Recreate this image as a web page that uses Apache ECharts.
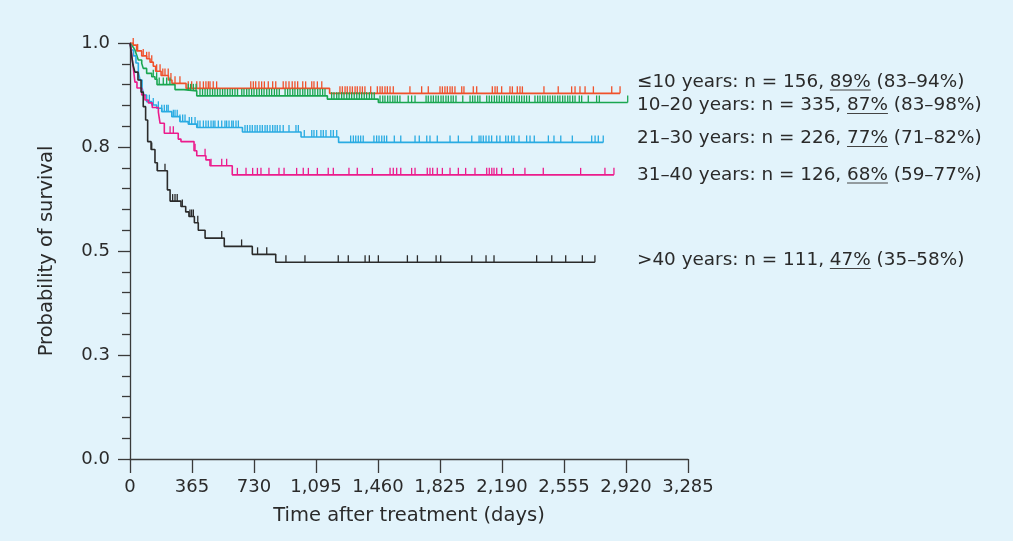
<!DOCTYPE html>
<html><head><meta charset="utf-8">
<script src="https://cdn.jsdelivr.net/npm/echarts@6/dist/echarts.min.js"></script>
<style>html,body{margin:0;padding:0;background:#e2f3fb;}#c{width:1013px;height:541px;}</style>
</head><body><div id="c"></div>
<script>
// ---------- data ----------
const xTicks = [0, 365, 730, 1095, 1460, 1825, 2190, 2555, 2920, 3285];
const xTickLabels = ['0', '365', '730', '1,095', '1,460', '1,825', '2,190', '2,555', '2,920', '3,285'];
const yTicks = [0, 0.25, 0.5, 0.75, 1];
const yTickLabels = ['0.0', '0.3', '0.5', '0.8', '1.0'];

const groupLabels = ['≤10 years', '10–20 years', '21–30 years', '31–40 years', '>40 years'];
const groupN = [156, 335, 226, 126, 111];
const groupPct = [89, 87, 77, 68, 47];
const groupCI = [[83, 94], [83, 98], [71, 82], [59, 77], [35, 58]];

// Kaplan–Meier steps: [day, survival after this day]
const stepsLe10 = [[0,1],[18,0.995],[39,0.981],[69,0.969],[98,0.962],[118,0.954],[137,0.944],[151,0.932],[183,0.922],[226,0.911],[247,0.903],[330,0.891],[1175,0.879],[2885,0.879]];
const steps10to20 = [[0,1],[9,0.995],[19,0.990],[29,0.983],[39,0.971],[49,0.959],[69,0.951],[78,0.939],[98,0.927],[128,0.919],[147,0.913],[159,0.900],[265,0.888],[318,0.885],[393,0.873],[1162,0.865],[1462,0.857],[2930,0.857]];
const steps21to30 = [[0,1],[9,0.983],[21,0.969],[35,0.952],[49,0.930],[59,0.911],[71,0.892],[82,0.875],[98,0.859],[128,0.851],[157,0.843],[187,0.835],[246,0.823],[294,0.811],[343,0.805],[393,0.797],[662,0.786],[1007,0.774],[1228,0.761],[2786,0.761]];
const steps31to40 = [[0,1],[6,0.988],[12,0.964],[21,0.935],[29,0.906],[41,0.892],[69,0.875],[88,0.863],[108,0.856],[131,0.845],[167,0.834],[177,0.807],[202,0.783],[284,0.769],[300,0.763],[377,0.741],[393,0.729],[447,0.719],[471,0.705],[602,0.683],[2849,0.683]];
const stepsOver40 = [[0,1],[9,0.971],[18,0.947],[29,0.930],[47,0.911],[65,0.882],[78,0.847],[92,0.815],[104,0.763],[124,0.744],[147,0.712],[161,0.693],[220,0.647],[236,0.620],[300,0.607],[328,0.594],[347,0.583],[379,0.568],[402,0.550],[442,0.531],[555,0.511],[720,0.492],[858,0.473],[2737,0.473]];

// censoring times (days)
const censLe10 = [19,45,78,98,112,128,157,177,193,206,225,241,265,294,343,363,393,412,432,447,461,471,490,510,711,726,740,759,775,791,814,840,858,902,918,936,955,971,987,1017,1034,1070,1083,1103,1129,1236,1250,1266,1279,1295,1309,1325,1338,1354,1368,1383,1417,1456,1472,1485,1501,1515,1531,1550,1648,1717,1756,1825,1839,1854,1868,1884,1897,1913,1953,1966,2021,2041,2133,2149,2162,2188,2237,2251,2280,2296,2310,2437,2521,2600,2620,2649,2679,2728,2836,2885];
const cens10to20 = [137,157,172,196,216,235,343,357,373,389,412,427,442,456,471,486,500,515,530,545,559,574,589,603,618,633,658,671,687,701,716,730,746,761,775,789,805,820,834,850,864,879,913,928,942,958,971,987,1001,1017,1030,1046,1060,1076,1089,1105,1119,1134,1148,1187,1201,1217,1230,1246,1260,1276,1291,1305,1320,1335,1350,1364,1379,1393,1409,1423,1438,1472,1488,1501,1517,1531,1547,1560,1574,1589,1638,1658,1678,1743,1756,1772,1786,1801,1815,1831,1844,1860,1874,1890,1903,1919,1959,2002,2017,2031,2047,2060,2100,2115,2129,2145,2159,2174,2188,2204,2218,2233,2247,2262,2277,2292,2306,2321,2335,2351,2384,2400,2414,2430,2443,2459,2473,2488,2502,2518,2531,2547,2561,2577,2590,2606,2620,2645,2659,2698,2747,2763,2930];
const cens21to30 = [114,137,167,187,202,216,225,255,265,278,294,310,324,349,363,383,399,412,432,447,461,477,490,500,520,540,559,569,583,599,608,624,638,677,691,706,720,736,749,765,779,795,808,824,840,854,867,883,902,936,977,991,1026,1070,1083,1099,1124,1138,1154,1182,1197,1217,1299,1315,1329,1344,1358,1373,1436,1452,1466,1482,1497,1511,1556,1594,1678,1703,1747,1766,1809,1884,1933,2012,2055,2066,2080,2096,2113,2129,2159,2178,2212,2227,2247,2261,2290,2335,2355,2380,2463,2496,2536,2604,2718,2738,2757,2786];
const cens31to40 = [236,255,383,442,477,540,569,632,683,722,750,771,818,877,907,981,1020,1050,1103,1167,1197,1289,1338,1427,1531,1550,1570,1594,1658,1678,1750,1766,1782,1809,1839,1884,1933,1976,2031,2100,2115,2130,2143,2159,2188,2257,2325,2433,2653,2796,2849];
const censOver40 = [128,161,206,251,265,278,308,353,363,373,399,540,657,751,805,918,1030,1226,1285,1384,1409,1462,1633,1692,1802,1829,2012,2096,2143,2394,2483,2565,2663,2737];

const groupColors = ['#f0512b', '#1aa650', '#29abe2', '#ec1b8c', '#2b2b2b'];
const allSteps = [stepsLe10, steps10to20, steps21to30, steps31to40, stepsOver40];
const allCens = [censLe10, cens10to20, cens21to30, cens31to40, censOver40];

// ---------- build ----------
function survAt(steps, t) {
  let s = steps[0][1];
  for (const p of steps) { if (p[0] <= t) s = p[1]; else break; }
  return s;
}
const FONT = '"DejaVu Sans", sans-serif';
const txtColor = '#2a2a2a';
const series = [];
allSteps.forEach((st, i) => {
  series.push({
    type: 'line', step: 'end', data: st, symbol: 'none', silent: true,
    lineStyle: { color: groupColors[i], width: 1.6 }, z: 2 + i
  });
  series.push({
    type: 'custom', silent: true, z: 2 + i,
    data: allCens[i].map(t => [t, survAt(st, t)]),
    encode: { x: 0, y: 1 },
    renderItem: (params, api) => {
      const p = api.coord([api.value(0), api.value(1)]);
      return { type: 'line', shape: { x1: p[0], y1: p[1], x2: p[0], y2: p[1] - 7 },
        style: { stroke: groupColors[i], lineWidth: 1.3 } };
    }
  });
});

// right-hand labels with underlined percentages
const ctx = document.createElement('canvas').getContext('2d');
const LFS = 18.4;
ctx.font = LFS + 'px ' + FONT;
const labelY = [82, 105.5, 138.5, 175, 260.5];
const labelX = 637;
const graphics = [];
groupLabels.forEach((g, i) => {
  const pre = g + ': n = ' + groupN[i] + ', ';
  const pct = groupPct[i] + '%';
  const post = ' (' + groupCI[i][0] + '–' + groupCI[i][1] + '%)';
  const w1 = ctx.measureText(pre).width;
  const w2 = ctx.measureText(pct).width;
  const y = labelY[i];
  [[pre, labelX], [pct, labelX + w1], [post, labelX + w1 + w2]].forEach(([s, x]) => {
    graphics.push({ type: 'text', x: x, y: y, silent: true,
      style: { text: s, fill: txtColor, font: LFS + 'px ' + FONT,
        align: 'left', verticalAlign: 'middle', textAlign: 'left', textVerticalAlign: 'middle' } });
  });
  graphics.push({ type: 'line', silent: true,
    shape: { x1: labelX + w1, y1: y + 8, x2: labelX + w1 + w2, y2: y + 8 },
    style: { stroke: '#444', lineWidth: 1 } });
});

const chart = echarts.init(document.getElementById('c'), null, { renderer: 'canvas' });
chart.setOption({
  animation: false,
  backgroundColor: '#e2f3fb',
  grid: { left: 130, right: 325, top: 43, bottom: 82, containLabel: false, outerBoundsMode: 'none' },
  xAxis: {
    type: 'value', min: xTicks[0], max: xTicks[xTicks.length - 1], interval: 365,
    name: 'Time after treatment (days)', nameLocation: 'middle', nameGap: 47,
    nameTextStyle: { fontFamily: FONT, fontSize: 19.5, color: txtColor },
    axisLine: { show: true, onZero: false, lineStyle: { color: '#3a3a3a', width: 1.3 } },
    axisTick: { show: true, length: 14, lineStyle: { color: '#3a3a3a', width: 1.3 } },
    axisLabel: { margin: 19, fontFamily: FONT, fontSize: 18, color: txtColor,
      formatter: v => { const k = xTicks.indexOf(Math.round(v)); return k >= 0 ? xTickLabels[k] : ''; } },
    splitLine: { show: false }
  },
  yAxis: {
    type: 'value', min: 0, max: 1, interval: 0.25,
    name: 'Probability of survival', nameLocation: 'middle', nameGap: 73,
    nameTextStyle: { fontFamily: FONT, fontSize: 19.5, color: txtColor },
    axisLine: { show: true, onZero: false, lineStyle: { color: '#3a3a3a', width: 1.3 } },
    axisTick: { show: true, length: 12, lineStyle: { color: '#3a3a3a', width: 1.3 } },
    minorTick: { show: true, splitNumber: 5, length: 8, lineStyle: { color: '#3a3a3a', width: 1.3 } },
    axisLabel: { margin: 20, fontFamily: FONT, fontSize: 18, color: txtColor,
      formatter: v => { const k = yTicks.findIndex(t => Math.abs(t - v) < 1e-6); return k >= 0 ? yTickLabels[k] : ''; } },
    splitLine: { show: false }, minorSplitLine: { show: false }
  },
  series: series,
  graphic: { elements: graphics }
});
</script></body></html>
